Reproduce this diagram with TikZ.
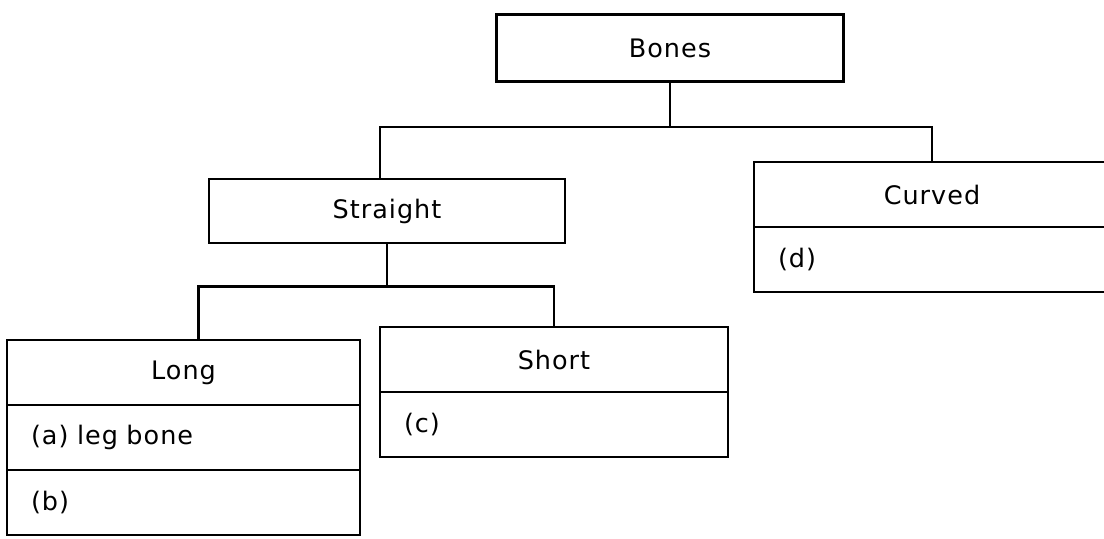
\documentclass[tikz,border=0pt]{standalone}
\usepackage{fontspec}
\usepackage{tikz}
\usetikzlibrary{positioning}
\newfontfamily\lblfont[LetterSpace=4]{DejaVu Sans}

\begin{document}
\begin{tikzpicture}[
    box/.style={rectangle, draw, line width=1.3pt, outer sep=0pt, minimum height=1.3cm, font=\lblfont\fontsize{14.5}{17}\selectfont},
    row/.style={box, inner xsep=0.48cm, align=left, text width=#1},
    edge/.style={line width=1.3pt}
]
\useasboundingbox (0,0) rectangle (22.08,-10.76);

\node[box, minimum width=6.94cm, minimum height=1.34cm] (bones) at (13.4,-0.96) {Bones};
\node[box, minimum width=7.12cm, minimum height=1.28cm] (straight) at (7.74,-4.22) {Straight};
\node[box, minimum width=7.12cm] (curved) at (18.64,-3.89) {Curved};
\node[row=6.16cm, below=0pt of curved] (curvedd) {(d)};
\node[box, minimum width=7.06cm] (long) at (3.67,-7.45) {Long};
\node[row=6.10cm, below=0pt of long] (longa) {(a) leg bone};
\node[row=6.10cm, below=0pt of longa] (longb) {(b)};
\node[box, minimum width=6.96cm] (short) at (11.08,-7.19) {Short};
\node[row=6.00cm, below=0pt of short] (shortc) {(c)};

\draw[edge] (bones.south) -- ++(0,-0.91);
\draw[edge] ([xshift=-0.14cm]straight.north) -- ++(0,1.04) -| (curved.north);
\draw[edge] (straight.south) -- ++(0,-0.87);
\draw[edge] ([xshift=0.3cm]long.north) -- ++(0,1.07) -| (short.north);
\end{tikzpicture}
\end{document}
